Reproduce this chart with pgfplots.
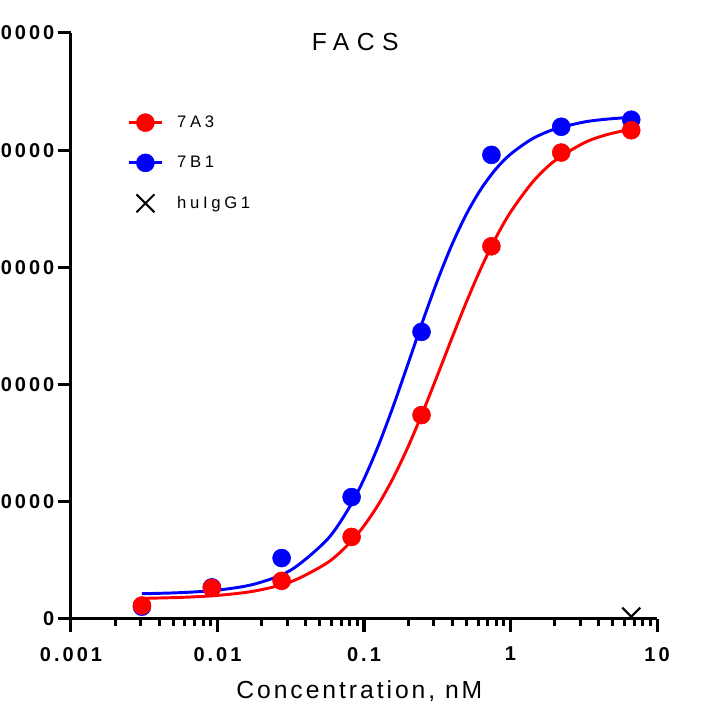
\documentclass[border=0pt]{standalone}
\usepackage{fontspec}
\setmainfont{Liberation Sans}
\newfontfamily\tickfont{Liberation Sans}[LetterSpace=15]
\newfontfamily\labfont{Liberation Sans}[LetterSpace=12]
\newfontfamily\titlefont{Liberation Sans}[LetterSpace=30]
\newfontfamily\legfont{Liberation Sans}[LetterSpace=22]
\usepackage{pgfplots}
\pgfplotsset{compat=1.18}
\pgfplotsset{
  dotline/.style={legend image code/.code={
    \draw[#1, line width=2.2pt] (0pt,0pt) -- (25pt,0pt);
    \draw[##1] plot coordinates {(12.5pt,0pt)};}},
  markonly/.style={legend image code/.code={
    \draw[##1] plot coordinates {(12.5pt,0pt)};}},
}

% measured data (3-fold dilution series, nM)
\pgfplotstableread{
x      y
0.00305 1150
0.00915 2650
0.0274  3250
0.0823  7000
0.247   17400
0.741   31800
2.22    39800
6.67    41700
}\redpts
\pgfplotstableread{
x      y
0.00305 1050
0.00915 2700
0.0274  5200
0.0823  10400
0.247   24500
0.741   39600
2.22    42000
6.67    42600
}\bluepts

\begin{document}
\begin{tikzpicture}
\useasboundingbox (-53.25pt,-65.25pt) rectangle (480pt,464.25pt);
\clip (-53.25pt,-65.25pt) rectangle (480pt,464.25pt);
\begin{axis}[
  at={(0pt,0pt)}, anchor=south west,
  width=439.5pt, height=439.5pt, scale only axis,
  xmode=log, xmin=0.001, xmax=10,
  ymin=0, ymax=50000,
  scaled y ticks=false,
  axis lines=left,
  axis line style={line width=2.25pt, -},
  tick align=outside,
  tick style={line width=2.25pt, black},
  major tick length=10pt,
  minor tick length=5pt,
  xtick={0.001,0.01,0.1,1,10},
  xticklabels={0.001,0.01,0.1,1,10},
  minor xtick={0.002,0.003,0.004,0.005,0.006,0.007,0.008,0.009,
    0.02,0.03,0.04,0.05,0.06,0.07,0.08,0.09,
    0.2,0.3,0.4,0.5,0.6,0.7,0.8,0.9,
    2,3,4,5,6,7,8,9},
  ytick={0,10000,20000,30000,40000,50000},
  yticklabels={0,10000,20000,30000,40000,50000},
  xticklabel style={font=\tickfont\bfseries\fontsize{15}{17}\selectfont, yshift=-7.5pt},
  yticklabel style={font=\tickfont\bfseries\fontsize{15}{17}\selectfont, xshift=1pt},
  xlabel={Concentration, nM},
  xlabel style={font=\labfont\fontsize{18.5}{20}\selectfont, at={(axis description cs:0.492,-0.123)}, anchor=center},
  title={FACS},
  title style={font=\titlefont\fontsize{18.5}{20}\selectfont, at={(0.485,0.971)}, anchor=center, inner sep=0pt},
  clip marker paths=true,
  reverse legend,
  legend cell align=left,
  legend style={draw=none, fill=none, at={(0.0956,0.778)}, anchor=west,
    inner sep=0pt, row sep=16pt, font=\legfont\fontsize{12.5}{14}\selectfont,
    /tikz/every odd column/.append style={column sep=8.25pt}},
]
% isotype control
\addplot[black, only marks, mark=x, mark size=9.5pt, line width=1.5pt, markonly]
  coordinates {(6.67,200)};
\addlegendentry{huIgG1}
% 7B1
\addplot[blue, line width=2.2pt, smooth, forget plot] table[x=x,y=y] {
x y
0.00305 2156
0.00562 2250
0.01 2462
0.01778 2972
0.03162 4166
0.05623 6795
0.07943 9523
0.1 11945
0.1259 14850
0.1585 18170
0.1995 21750
0.2512 25380
0.3162 28830
0.3981 31930
0.5012 34570
0.631 36710
0.7943 38390
1 39660
1.413 40980
1.995 41790
3.162 42400
4.467 42640
6.67 42810
};
\addplot[blue, only marks, mark=*, mark size=6.75pt, mark options={draw=none, fill=blue}, dotline=blue]
  table[x=x,y=y] {\bluepts};
\addlegendentry{7B1}
% 7A3
\addplot[red, line width=2.2pt, smooth, forget plot] table[x=x,y=y] {
x y
0.00305 1760
0.00562 1843
0.01 2012
0.01778 2381
0.03162 3168
0.05623 4800
0.07943 6457
0.1 7952
0.1259 9807
0.1585 12052
0.1995 14670
0.2512 17612
0.3162 20750
0.3981 23960
0.5012 27080
0.631 29970
0.7943 32530
1 34710
1.413 37270
1.995 39080
3.162 40610
4.467 41300
6.67 41800
};
\addplot[red, only marks, mark=*, mark size=6.75pt, mark options={draw=none, fill=red}, dotline=red]
  table[x=x,y=y] {\redpts};
\addlegendentry{7A3}
\end{axis}
\end{tikzpicture}
\end{document}
